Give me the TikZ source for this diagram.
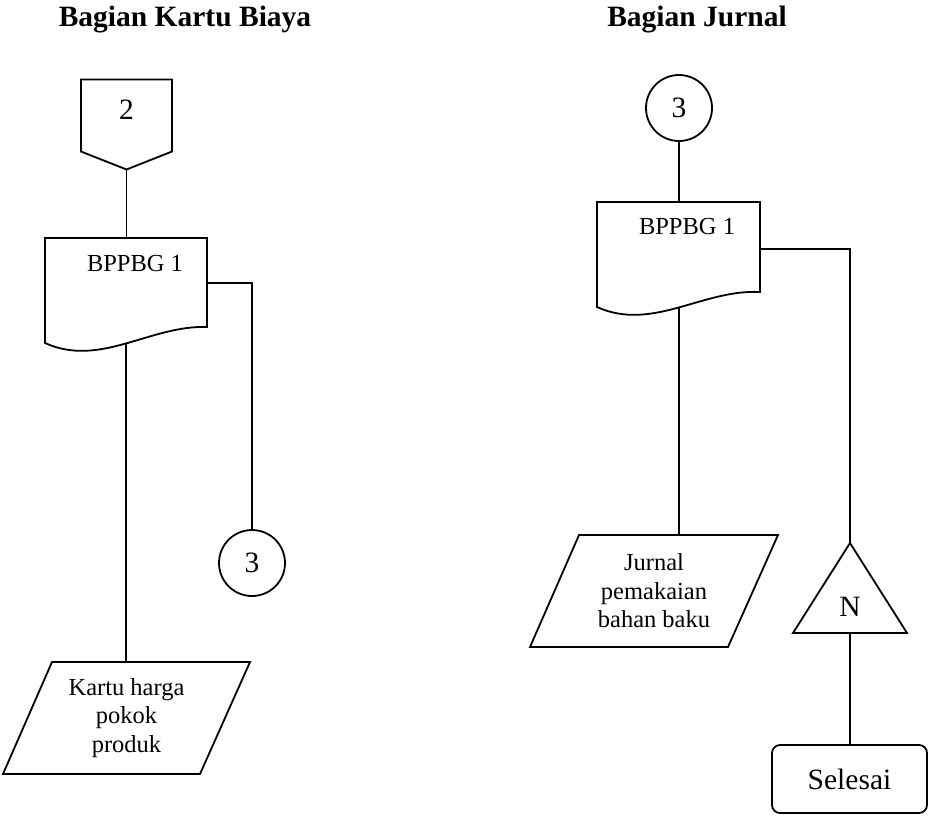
\documentclass[tikz,border=0pt]{standalone}
\usepackage{fontspec}
\setmainfont{Liberation Serif}
\usetikzlibrary{calc}

\tikzset{
  line/.style={line width=1.8pt, line join=miter},
  box/.style={draw=none, inner sep=0pt, outer sep=0pt, shape=rectangle},
  outline/.style={line, fill=white},
  bodytext/.style={font=\fontsize{24.5}{28.5}\selectfont, align=center},
  bigtext/.style={font=\fontsize{29.5}{34}\selectfont},
  title/.style={font=\fontsize{29.5}{34}\selectfont\bfseries, inner sep=0pt, anchor=base},
}

% document symbol: flat top, wavy bottom (left corner 8 above the box bottom,
% right corner #2 above it)
\newcommand{\docoutline}[2]{%
  \draw[outline] (#1.north west) -- (#1.north east)
    -- ($(#1.south east)+(0,-#2)$)
    .. controls ($(#1.south west)!0.65!(#1.south east)+(0,-26)$)
       and ($(#1.south west)+(55,17)$)
    .. ($(#1.south west)+(0,-8)$) -- cycle;}

% off-page connector pointing down
\newcommand{\offpage}[1]{%
  \draw[outline] (#1.north west) -- (#1.north east)
    -- ($(#1.south east)+(0,-18)$) -- (#1.south)
    -- ($(#1.south west)+(0,-18)$) -- cycle;}

% parallelogram leaning right
\newcommand{\slanted}[1]{%
  \draw[outline] ($(#1.north west)+(49,0)$) -- (#1.north east)
    -- ($(#1.south east)+(-50,0)$) -- (#1.south west) -- cycle;}

% upward triangle
\newcommand{\uptriangle}[1]{%
  \draw[outline] (#1.north) -- (#1.south east) -- (#1.south west) -- cycle;}

\begin{document}
\begin{tikzpicture}[x=1pt, y=-1pt]
\useasboundingbox (0,0) rectangle (928,815);

% column headings
\node[title] (h1) at (185,26.5) {Bagian Kartu Biaya};
\node[title] (h2) at (697,26.5) {Bagian Jurnal};

% ---- Bagian Kartu Biaya: symbol frames ----
\node[box, minimum width=91pt, minimum height=90pt] (c2) at (126.5,124.5) {};
\node[box, minimum width=162pt, minimum height=113pt] (d1) at (126,294.5) {};
\node[draw, line, circle, minimum size=66pt, inner sep=0pt, fill=white, bigtext]
  (k3) at (252,563) {3};
\node[box, minimum width=247pt, minimum height=112pt] (p1) at (126.5,718) {};

% ---- Bagian Jurnal: symbol frames ----
\node[draw, line, circle, minimum size=66pt, inner sep=0pt, fill=white, bigtext]
  (j3) at (679,108) {3};
\node[box, minimum width=163pt, minimum height=113pt] (d2) at (678.5,258.5) {};
\node[box, minimum width=248pt, minimum height=112pt] (p2) at (654,591) {};
\node[box, minimum width=114pt, minimum height=90pt] (tn) at (850,588) {};
\node[draw, line, rounded corners=8pt, minimum width=155pt, minimum height=68pt,
  inner sep=0pt, bigtext] (sel) at (849.5,779) {Selesai};

% connectors
\draw[line] (c2.south) -- (c2.south |- d1.center);
\draw[line] ($(d1.north east)+(0,45)$) -| (k3.north);
\draw[line] (d1.center) -- (d1.center |- p1.north);
\draw[line] (j3.south) -- (j3.south |- d2.center);
\draw[line] ($(d2.north east)+(0,47)$) -| (tn.north);
\draw[line] (j3.south |- d2.center) -- (j3.south |- p2.north);
\draw[line] (tn.south) -- (tn.south |- sel.north);

% symbols drawn over the connector ends, with their texts
\offpage{c2}
\node[bigtext] (c2t) at (126.5,110) {2};
\docoutline{d1}{24}
\node[font=\fontsize{24.5}{28.5}\selectfont] (b1) at (135,263) {BPPBG 1};
\docoutline{d2}{23}
\node[font=\fontsize{24.5}{28.5}\selectfont] (b2) at (687,227) {BPPBG 1};
\slanted{p1}
\node[bodytext] (p1t) at (p1) {Kartu harga\\pokok\\produk};
\slanted{p2}
\node[bodytext] (p2t) at (p2) {Jurnal\\pemakaian\\bahan baku};
\uptriangle{tn}
\node[bigtext] (nt) at (850,607) {N};
\end{tikzpicture}
\end{document}
